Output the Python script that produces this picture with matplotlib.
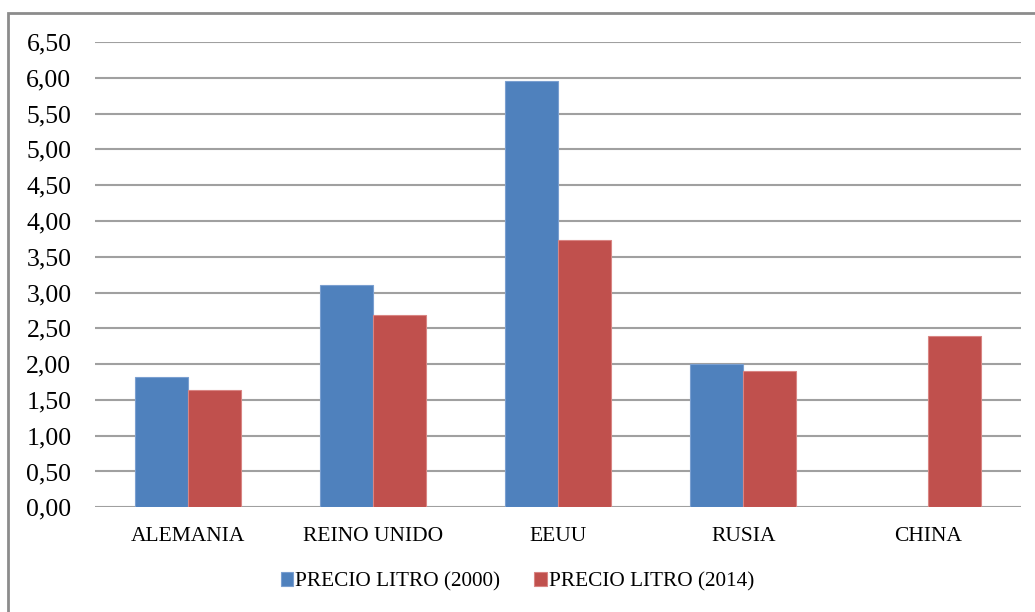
import matplotlib.pyplot as plt
import numpy as np
from matplotlib.patches import Rectangle
from matplotlib.ticker import FuncFormatter, MultipleLocator

paises = ['ALEMANIA', 'REINO UNIDO', 'EEUU', 'RUSIA', 'CHINA']
precio_2000 = [1.82, 3.11, 5.95, 2.00, np.nan]
precio_2014 = [1.64, 2.68, 3.73, 1.90, 2.39]
series = ['PRECIO LITRO (2000)', 'PRECIO LITRO (2014)']

plt.rcParams['font.family'] = ['Liberation Serif', 'DejaVu Serif']

fig = plt.figure(figsize=(10.35, 6.12), dpi=100)
ax = fig.add_axes([0.0918, 0.1711, 0.8947, 0.7603])

x = np.arange(len(paises))
w = 0.286
ax.bar(x - w / 2, precio_2000, w, color='#4F81BD', edgecolor='#7A9FD0', linewidth=0.8,
       label=series[0], zorder=3)
ax.bar(x + w / 2, precio_2014, w, color='#C0504D', edgecolor='#D98583', linewidth=0.8,
       label=series[1], zorder=3)

ax.set_xlim(-0.5, len(paises) - 0.5)
ax.set_ylim(0, 6.5)
ax.yaxis.set_major_locator(MultipleLocator(0.5))
ax.yaxis.set_major_formatter(FuncFormatter(lambda v, p: f'{v:.2f}'.replace('.', ',')))
ax.set_xticks(x)
ax.set_xticklabels(paises)
ax.tick_params(axis='y', length=0, pad=17, labelsize=18.5)
ax.tick_params(axis='x', length=0, pad=14, labelsize=15.5)
ax.grid(axis='y', color='#a0a0a0', linewidth=1.5, zorder=0)
for s in ax.spines.values():
    s.set_visible(False)

# outer chart frame
fig.patches.append(Rectangle((8 / 1035, -0.1), 1.2, 1 - 13 / 612 + 0.1,
                             transform=fig.transFigure, fill=False,
                             edgecolor='#8c8c8c', linewidth=2))

fig.legend(loc='center', bbox_to_anchor=(0.5, 1 - 582 / 612), ncol=2, frameon=False,
           fontsize=15.3, handlelength=0.6, handleheight=0.6, handletextpad=0.1,
           columnspacing=1.6)

fig.savefig('out.png', dpi=100)
